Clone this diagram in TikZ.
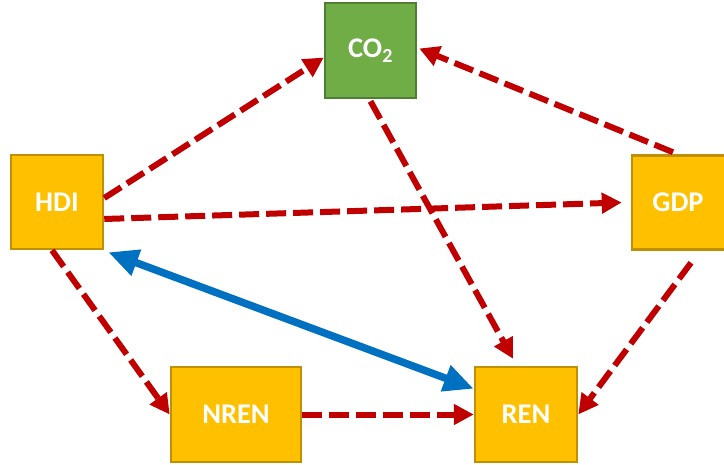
\documentclass[tikz,border=0pt]{standalone}
\usepackage{fontspec}
\setmainfont{Carlito}
\usetikzlibrary{arrows.meta}
\definecolor{boxorange}{HTML}{FFC000}
\definecolor{boxorangeedge}{HTML}{BF9000}
\definecolor{boxgreen}{HTML}{70AD47}
\definecolor{boxgreenedge}{HTML}{507E32}
\definecolor{arrred}{HTML}{C00000}
\definecolor{arrblue}{HTML}{0070C0}
\tikzset{
  varbox/.style={draw=boxorangeedge, fill=boxorange, line width=2.5pt, minimum width=92pt, minimum height=94pt, inner sep=0pt, text=white, font=\fontsize{28.5}{31}\selectfont\bfseries},
  co2box/.style={varbox, draw=boxgreenedge, fill=boxgreen, minimum width=91pt, minimum height=95pt},
  redarrow/.style={draw=arrred, line width=6pt, dash pattern=on 20pt off 7pt, -{Triangle[length=20pt,width=20pt]}},
  bluearrow/.style={draw=arrblue, line width=7.5pt, {Triangle[length=30pt,width=26pt]}-{Triangle[length=30pt,width=26pt]}}
}
\begin{document}
\begin{tikzpicture}[x=1pt,y=-1pt]
\useasboundingbox (0,0) rectangle (724,464);
\node[co2box] (co2) at (370.5,50.5) {CO\textsubscript{2}};
\node[varbox] (hdi) at (57,202) {HDI};
\node[varbox, minimum width=94pt] (gdp) at (679,202.5) {\hspace*{-2pt}GDP};
\node[varbox, minimum width=130pt, minimum height=95pt] (nren) at (236,414.5) {NREN};
\node[varbox, minimum width=102pt, minimum height=95pt] (ren) at (526,414.5) {REN};

\draw[redarrow] ([yshift=4pt]hdi.east) -- ([yshift=-7pt]co2.west);
\draw[redarrow] ([xshift=-6pt,yshift=2pt]gdp.north) -- ([xshift=2pt,yshift=2pt]co2.east);
\draw[redarrow] ([yshift=-17pt]hdi.east) -- ([xshift=-9pt]gdp.west);
\draw[redarrow] ([yshift=-2pt]co2.south) -- ([xshift=-13pt,yshift=7pt]ren.north);
\draw[redarrow] ([xshift=-5pt]hdi.south) -- (nren.west);
\draw[redarrow] (nren.east) -- (ren.west);
\draw[redarrow] ([xshift=12pt,yshift=-12pt]gdp.south) -- (ren.east);
\draw[bluearrow] ([xshift=4pt,yshift=-2pt]hdi.south east) -- ([yshift=-23pt]ren.north west);
\end{tikzpicture}
\end{document}
